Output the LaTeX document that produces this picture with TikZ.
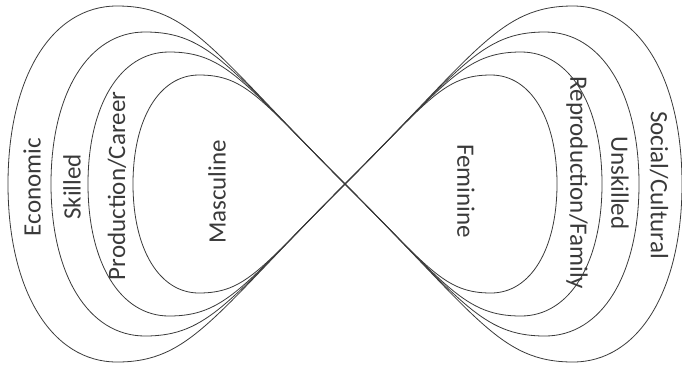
\documentclass[tikz,border=0pt]{standalone}
\usepackage{fontspec}
\setmainfont{Carlito}
\definecolor{ink}{HTML}{3A3A3A}

\begin{document}
\begin{tikzpicture}[x=1pt, y=-1pt, font=\fontsize{25}{30}\selectfont,
  lobe/.style={draw=ink, line width=0.8pt},
  lbl/.style={text=ink, inner sep=0pt}]
  \useasboundingbox (0,0) rectangle (682,368);
  \coordinate (mid) at (345,184);
  % nested lobes, left side then mirrored to the right
  \foreach \sd in {1,-1}
    \foreach \lw/\lt/\lh in {337/228/178, 294/200/152, 257/176/132, 212/146/109}
      \draw[lobe, shift={(mid)}, xscale=\sd] (0,0)
        .. controls ({-0.58*\lt},{-0.58*\lt}) and ({-0.68*\lt},-\lh) .. ({-\lt},-\lh)
        .. controls ({-\lt-0.6*(\lw-\lt)},-\lh) and ({-\lw},{-0.6*\lh}) .. ({-\lw},0)
        .. controls ({-\lw},{0.6*\lh}) and ({-\lt-0.6*(\lw-\lt)},\lh) .. ({-\lt},\lh)
        .. controls ({-0.68*\lt},\lh) and ({-0.58*\lt},{0.58*\lt}) .. (0,0);
  \node[lbl, rotate=90] (eco) at (32,187) {Economic};
  \node[lbl, rotate=90] (skl) at (72,187) {Skilled};
  \node[lbl, rotate=90] (prod) at (117,186) {Production/Career};
  \node[lbl, rotate=90] (masc) at (217,192) {Masculine};
  \node[lbl, rotate=-90] (fem) at (466,191) {Feminine};
  \node[lbl, rotate=-90] (repr) at (577,183) {Reproduction/Family};
  \node[lbl, rotate=-90] (unsk) at (620,183) {Unskilled};
  \node[lbl, rotate=-90] (soc) at (659,185) {Social/Cultural};
\end{tikzpicture}
\end{document}
